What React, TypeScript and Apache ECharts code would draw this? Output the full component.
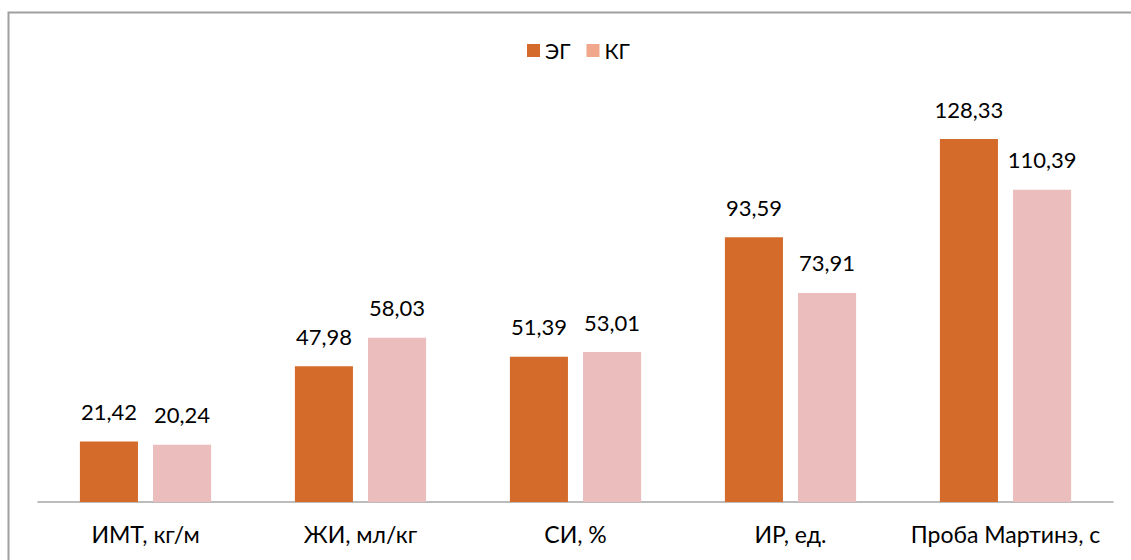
import React, { useEffect, useRef } from "react";
import * as echarts from "echarts";

const categories = ["ИМТ, кг/м", "ЖИ, мл/кг", "СИ, %", "ИР, ед.", "Проба Мартинэ, с"];
const seriesNames = ["ЭГ", "КГ"];
const egValues = [21.42, 47.98, 51.39, 93.59, 128.33];
const kgValues = [20.24, 58.03, 53.01, 73.91, 110.39];

const FONT = "Lato, 'Open Sans', sans-serif";

export default function App() {
  const ref = useRef<HTMLDivElement>(null);
  useEffect(() => {
    const chart = echarts.init(ref.current!, null, { renderer: "svg" });
    const fmt = (p: any) => String(p.value.toFixed(2)).replace(".", ",");
    chart.setOption({
      animation: false,
      backgroundColor: "#ffffff",
      textStyle: { fontFamily: FONT },
      graphic: [
        {
          type: "rect",
          shape: { x: 8.5, y: 12.5, width: 1200, height: 600 },
          style: { fill: "none", stroke: "#a0a0a0", lineWidth: 2 },
          silent: true,
        },
      ],
      legend: {
        data: [
          { name: seriesNames[0], itemStyle: { color: "#D46B2A" } },
          { name: seriesNames[1], itemStyle: { color: "#F0A78C" } },
        ],
        top: 35,
        left: 522,
        icon: "rect",
        itemWidth: 13,
        itemHeight: 13,
        itemGap: 16,
        textStyle: { fontSize: 21, color: "#000", fontFamily: FONT },
      },
      grid: { left: 38, right: 18, top: 106, bottom: 58 },
      xAxis: {
        type: "category",
        data: categories,
        axisLine: { lineStyle: { color: "#a6a6a6", width: 1.5 } },
        axisTick: { show: false },
        axisLabel: { fontSize: 23, color: "#000", margin: 20, fontFamily: FONT, interval: 0 },
      },
      yAxis: {
        type: "value",
        min: 0,
        max: 140,
        show: false,
        splitLine: { show: false },
      },
      series: [
        {
          name: seriesNames[0],
          type: "bar",
          data: egValues,
          barWidth: "27%",
          barGap: "26%",
          itemStyle: { color: "#D46B2A" },
          label: {
            show: true,
            position: "top",
            distance: 19,
            fontSize: 22,
            color: "#000",
            fontFamily: FONT,
            formatter: fmt,
          },
        },
        {
          name: seriesNames[1],
          type: "bar",
          data: kgValues,
          barWidth: "27%",
          itemStyle: { color: "#EBBDBD" },
          label: {
            show: true,
            position: "top",
            distance: 19,
            fontSize: 22,
            color: "#000",
            fontFamily: FONT,
            formatter: fmt,
          },
        },
      ],
    });
    return () => chart.dispose();
  }, []);
  return (
    <div
      ref={ref}
      style={{ position: "absolute", left: 0, top: 0, width: 1131, height: 560 }}
    />
  );
}
